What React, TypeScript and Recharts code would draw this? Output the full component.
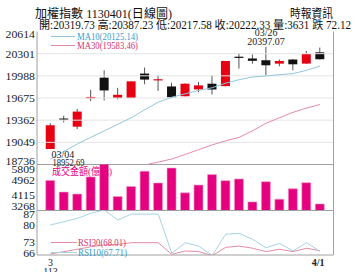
import React from 'react';
import { ComposedChart, Bar, Line, XAxis, YAxis, ReferenceLine, ReferenceDot } from 'recharts';

const dates = ['03/04','03/05','03/06','03/07','03/08','03/11','03/12','03/13','03/14','03/15','03/18','03/19','03/20','03/21','03/22','03/25','03/26','03/27','03/28','03/29','04/01'];
const opens  = [18955, 19385, 19270, 19672, 19962, 19675, 19675, 20020, 19925, 19838, 19700, 19796, 19877, 19843, 20258, 20233, 20208, 20160, 20218, 20161, 20319.73];
const highs  = [19320, 19425, 19521, 19790, 20066, 19818, 19912, 20105, 19995, 19890, 19880, 19900, 19995, 20200, 20304, 20290, 20397.07, 20218, 20225, 20340, 20387.23];
const lows   = [18952.69, 19330, 19237, 19630, 19640, 19655, 19672, 19868, 19775, 19680, 19698, 19757, 19725, 19840, 20090, 20160, 19995, 20123, 20066, 20158, 20217.58];
const closes = [19290, 19375, 19483, 19690, 19782, 19720, 19910, 19935, 19940, 19686, 19877, 19853, 19795, 20198, 20252, 20200, 20137, 20198, 20151, 20294.45, 20222.33];
const ma10 = [18810, 18921, 19027, 19120, 19212, 19305, 19397, 19511, 19615, 19686, 19735, 19782, 19820, 19885, 19934, 19971, 19985, 20005, 20019, 20066, 20125.14];
const ma30 = [18450, 18490, 18530, 18570, 18610, 18650, 18690, 18729, 18771, 18814, 18878, 18946, 19013, 19070, 19120, 19212, 19319, 19397, 19473, 19533, 19583.46];
const volumes = [4932, 4284, 4173, 5122, 5850, 4039, 4597, 5435, 4787, 5614, 4245, 4675, 5251, 4916, 5010, 3743, 4860, 3893, 4469, 4804, 3631];
const rsi10 = [80.2, 81.7, 83.3, 85.7, 87.2, 82.5, 85.3, 85.3, 85.3, 66.8, 71.8, 70.2, 65.8, 75.8, 76.2, 73.4, 69.4, 71.5, 67.9, 71.8, 67.71];
const rsi30 = [66.5, 67.6, 68.7, 69.9, 70.7, 71.0, 71.8, 71.8, 71.8, 66.3, 67.9, 67.6, 65.7, 69.6, 70.2, 69.2, 67.6, 68.7, 67.6, 69.2, 68.01];
const priceTicks = [20614, 20301, 19988, 19675, 19362, 19049, 18736];
const volumeTicks = [5809, 4962, 4115, 3268];
const rsiTicks = [87, 80, 73, 66];

const data = dates.map((d, i) => ({
  i, date: d, open: opens[i], high: highs[i], low: lows[i], close: closes[i],
  ma10: ma10[i], ma30: ma30[i], vol: volumes[i], rsi10: rsi10[i], rsi30: rsi30[i],
}));

const W = 356;
const H = 272;
const FONT = "'Liberation Serif', 'Noto Sans CJK TC', serif";
const GRID = '#e4e4e4';
const AXIS = '#a0a0a0';

const makeYTick = (shifts: Record<number, number>) => (p: any) => {
  const v = p.payload.value;
  const s = shifts[v] || 0;
  const n = String(v).length;
  return (
    <text x={p.x} y={p.y + s} dy="0.35em" textAnchor="end" fontSize={11} fontFamily={FONT} fill="#222"
      textLength={n * 5.9} lengthAdjust="spacingAndGlyphs">
      {v}
    </text>
  );
};

const Candle = (props: any) => {
  const { x, y, width, height, payload } = props;
  if (!payload) return null;
  const { open, close, high, low } = payload;
  const top = Math.min(y, y + height);
  const h = Math.abs(height);
  const ratio = h / (high - low);
  const yv = (v: number) => top + (high - v) * ratio;
  const up = close >= open;
  const color = up ? '#e60012' : '#111';
  const cx = x + width / 2;
  const bt = yv(Math.max(open, close));
  const bb = yv(Math.min(open, close));
  return (
    <g>
      <line x1={cx} x2={cx} y1={top} y2={top + h} stroke="#555" strokeWidth={1} />
      <rect x={x} y={bt} width={width} height={Math.max(1.2, bb - bt)} fill={color} />
    </g>
  );
};

const xAxisHidden = <XAxis type="number" dataKey="i" domain={[-1, 21]} hide allowDataOverflow />;

const RsiXTick = (p: any) => {
  const v = p.payload.value;
  if (v === 0) {
    return (
      <g>
        <text x={p.x} y={p.y + 7} dy="0.35em" textAnchor="middle" fontSize={10} fontFamily={FONT} fill="#222">3</text>
        <text x={p.x} y={p.y + 16} dy="0.35em" textAnchor="middle" fontSize={10} fontFamily={FONT} fill="#222">113</text>
      </g>
    );
  }
  return (
    <text x={p.x - 2} y={p.y + 7} dy="0.35em" textAnchor="middle" fontSize={10} fontWeight="bold" fontFamily={FONT} fill="#222">4/1</text>
  );
};

const layer: React.CSSProperties = { position: 'absolute', left: 0, top: 0 };

export default function App() {
  return (
    <div style={{ position: 'absolute', left: 0, top: 0, width: W, height: H, background: '#fff', overflow: 'hidden' }}>
      <div style={layer}>
        <ComposedChart width={W} height={H} data={data} margin={{ top: 31.5, right: 22.5, bottom: 107.5, left: 0 }}>
          {xAxisHidden}
          <YAxis type="number" domain={[18736, 20614]} ticks={priceTicks} interval={0} width={37} tickLine={false} tickSize={0} tickMargin={2}
            axisLine={{ stroke: AXIS }} allowDataOverflow tick={makeYTick({ 20614: 3, 18736: -3.5 })} />
          {priceTicks.slice(1, -1).map((v) => <ReferenceLine key={v} y={v} stroke={GRID} />)}
          <ReferenceLine y={18736} stroke={AXIS} />
          <ReferenceLine x={21} stroke={AXIS} />
          <Line type="linear" dataKey="ma30" stroke="#e58aa6" strokeWidth={1} dot={false} isAnimationActive={false} />
          <Line type="linear" dataKey="ma10" stroke="#93c6de" strokeWidth={1} dot={false} isAnimationActive={false} />
          <Bar dataKey={(d: any) => [d.low, d.high]} barSize={9} shape={Candle} isAnimationActive={false} />
          <ReferenceDot x={0} y={18952.69} r={0} shape={(p: any) => (
            <g fontFamily={FONT} fontSize={10} fill="#222">
              <text x={p.cx + 1} y={p.cy + 5} dy="0.35em">03/04</text>
              <text x={p.cx + 2} y={p.cy + 13} dy="0.35em" textLength={32} lengthAdjust="spacingAndGlyphs">18952.69</text>
            </g>
          )} />
          <ReferenceDot x={16} y={20397.07} r={0} shape={(p: any) => (
            <g fontFamily={FONT} fontSize={10} fill="#222" textAnchor="middle">
              <text x={p.cx} y={p.cy - 14} dy="0.35em">03/26</text>
              <text x={p.cx} y={p.cy - 5} dy="0.35em">20397.07</text>
            </g>
          )} />
        </ComposedChart>
      </div>
      <div style={layer}>
        <ComposedChart width={W} height={H} data={data} margin={{ top: 164.5, right: 22.5, bottom: 61.5, left: 0 }}>
          {xAxisHidden}
          <YAxis type="number" domain={[3268, 5809]} ticks={volumeTicks} interval={0} width={37} tickLine={false} tickSize={0} tickMargin={2}
            axisLine={{ stroke: AXIS }} allowDataOverflow tick={makeYTick({ 5809: 4.5, 3268: -4.5 })} />
          <ReferenceLine y={3268} stroke={AXIS} />
          <ReferenceLine x={21} stroke={AXIS} />
          <Bar dataKey="vol" barSize={9} fill="#e4007f" stroke="#f29ac6" strokeWidth={0.6} isAnimationActive={false} />
        </ComposedChart>
      </div>
      <div style={layer}>
        <ComposedChart width={W} height={H} data={data} margin={{ top: 210.5, right: 22.5, bottom: 0, left: 0 }}>
          <XAxis type="number" dataKey="i" domain={[-1, 21]} ticks={[0, 20]} interval={0} height={17} tickLine={false} tickSize={0} tickMargin={0}
            axisLine={{ stroke: AXIS }} allowDataOverflow tick={RsiXTick} />
          <YAxis type="number" domain={[66, 87]} ticks={rsiTicks} interval={0} width={37} tickLine={false} tickSize={0} tickMargin={2}
            axisLine={{ stroke: AXIS }} allowDataOverflow tick={makeYTick({ 87: 3.8, 73: 1.5, 66: -2.3 })} />
          <ReferenceLine x={21} stroke={AXIS} />
          <Line type="linear" dataKey="rsi30" stroke="#e58aa6" strokeWidth={1} dot={false} isAnimationActive={false} />
          <Line type="linear" dataKey="rsi10" stroke="#a6d2e4" strokeWidth={1} dot={false} isAnimationActive={false} />
        </ComposedChart>
      </div>
      <svg width={W} height={H} style={{ ...layer, pointerEvents: 'none' }} fontFamily={FONT}>
        <text x={35} y={13.5} dy="0.35em" fontSize={12.5} textLength={137} lengthAdjust="spacingAndGlyphs" fill="#111">加權指數 1130401(日線圖)</text>
        <text x={290} y={13.5} dy="0.35em" fontSize={12.5} textLength={43} lengthAdjust="spacingAndGlyphs" fill="#111">時報資訊</text>
        <text x={39} y={24.5} dy="0.35em" fontSize={11.5} textLength={312} lengthAdjust="spacingAndGlyphs" fill="#111">開:20319.73 高:20387.23 低:20217.58 收:20222.33 量:3631 跌 72.12</text>

        <line x1={51} x2={75} y1={36.5} y2={36.5} stroke="#93c6de" />
        <text x={77} y={36.5} dy="0.35em" fontSize={10} textLength={61} lengthAdjust="spacingAndGlyphs" fill="#3a9ccb">MA10(20125.14)</text>
        <line x1={51} x2={75} y1={45.5} y2={45.5} stroke="#e58aa6" />
        <text x={77} y={45.5} dy="0.35em" fontSize={10} textLength={61} lengthAdjust="spacingAndGlyphs" fill="#d6336c">MA30(19583.46)</text>

        <text x={52} y={171.5} dy="0.35em" fontSize={10} textLength={60} lengthAdjust="spacingAndGlyphs" fill="#e4007f">成交金額(億元)</text>

        <line x1={51} x2={77} y1={242.5} y2={242.5} stroke="#e58aa6" />
        <text x={78} y={242.5} dy="0.35em" fontSize={10} textLength={48} lengthAdjust="spacingAndGlyphs" fill="#d6336c">RSI30(68.01)</text>
        <line x1={51} x2={77} y1={252.5} y2={252.5} stroke="#a6d2e4" />
        <text x={78} y={252.5} dy="0.35em" fontSize={10} textLength={49} lengthAdjust="spacingAndGlyphs" fill="#3a9ccb">RSI10(67.71)</text>
      </svg>
    </div>
  );
}
